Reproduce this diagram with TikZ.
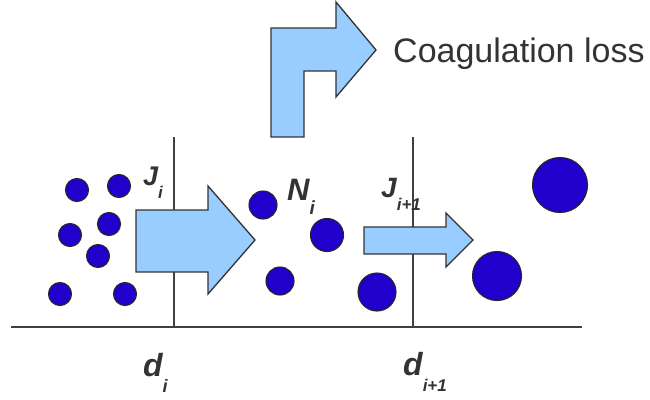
\documentclass[tikz,border=0pt]{standalone}
\usepackage{fontspec}
\setmainfont{Liberation Sans}
\begin{document}
\begin{tikzpicture}[x=1pt,y=-1pt,
  axisline/.style={draw=black!75,line width=1.6pt},
  particle/.style={circle,draw=black!85,line width=1.1pt,fill=partblue,inner sep=0pt},
  blockarrow/.style={draw=black!80,line width=1.3pt,fill=arrowblue,line join=miter},
  lbl/.style={inner sep=0pt,text=black!80,font=\bfseries\itshape},
]
\definecolor{partblue}{HTML}{2200CC}
\definecolor{arrowblue}{HTML}{99CCFF}
\useasboundingbox (0,0) rectangle (650,399);
% axes
\coordinate (h0) at (11,327);
\coordinate (h1) at (582,327);
\coordinate (v1t) at (174,137);
\coordinate (v1b) at (174,327);
\coordinate (v2t) at (413,137);
\coordinate (v2b) at (413,327);
\draw[axisline] (h0) -- (h1);
\draw[axisline] (v1t) -- (v1b);
\draw[axisline] (v2t) -- (v2b);
% particles
\node[particle,minimum size=23] (p1) at (77,190) {};
\node[particle,minimum size=23] (p2) at (119,186) {};
\node[particle,minimum size=23] (p3) at (109,224) {};
\node[particle,minimum size=23] (p4) at (70,235) {};
\node[particle,minimum size=23] (p5) at (98,256) {};
\node[particle,minimum size=23] (p6) at (60,294) {};
\node[particle,minimum size=23] (p7) at (125,294) {};
\node[particle,minimum size=28] (p8) at (263,205) {};
\node[particle,minimum size=28] (p9) at (280,281) {};
\node[particle,minimum size=33] (p10) at (327,235) {};
\node[particle,minimum size=38] (p11) at (377,292) {};
\node[particle,minimum size=49] (p12) at (497,276) {};
\node[particle,minimum size=55] (p13) at (560,185) {};
% block arrows
\draw[blockarrow] (136,210) -- (208,210) -- (208,186) -- (255,240) -- (208,294) -- (208,272) -- (136,272) -- cycle;
\draw[blockarrow] (364,227) -- (446,227) -- (446,213) -- (473,240) -- (446,267) -- (446,254) -- (364,254) -- cycle;
\draw[blockarrow] (271,137) -- (271,28) -- (336,28) -- (336,2) -- (376,50) -- (336,97) -- (336,71) -- (304,71) -- (304,137) -- cycle;
% texts
\node[anchor=base west,inner sep=0pt,text=black!80,font=\fontsize{34}{40}\selectfont] (coag) at (393,62) {Coagulation loss};
\node[lbl,anchor=base west,font=\fontsize{27}{30}\selectfont\bfseries\itshape] (ji) at (143,185) {J\raisebox{-13pt}{\fontsize{17}{17}\selectfont i}};
\node[lbl,anchor=base west,font=\fontsize{31}{34}\selectfont\bfseries\itshape] (ni) at (287,200) {N\raisebox{-14pt}{\fontsize{19}{19}\selectfont i}};
\node[lbl,anchor=base west,font=\fontsize{28}{30}\selectfont\bfseries\itshape] (ji1) at (381,197) {J\raisebox{-13pt}{\fontsize{17}{17}\selectfont i+1}};
\node[lbl,anchor=base west,font=\fontsize{32}{34}\selectfont\bfseries\itshape] (di) at (143,376) {d\raisebox{-16pt}{\fontsize{18}{18}\selectfont i}};
\node[lbl,anchor=base west,font=\fontsize{32}{34}\selectfont\bfseries\itshape] (di1) at (403,375) {d\raisebox{-16pt}{\fontsize{17}{17}\selectfont i+1}};
\end{tikzpicture}
\end{document}
